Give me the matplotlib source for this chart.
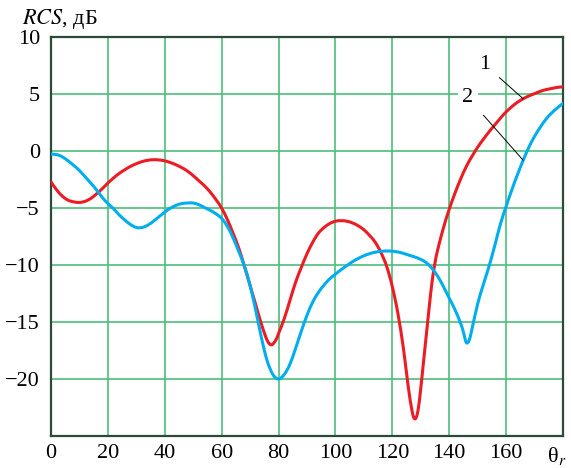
import numpy as np
import matplotlib
matplotlib.use('Agg')
import matplotlib.pyplot as plt
from matplotlib.path import Path
from matplotlib.patches import PathPatch

plt.rcParams['font.family'] = ['Liberation Serif', 'DejaVu Serif']
plt.rcParams['mathtext.fontset'] = 'stix'

# curve 1 (red)
theta1 = [0, 2, 4, 6, 8, 10, 12, 14, 16, 18, 20, 22, 24, 26, 28, 30, 32, 34, 36, 38,
          40, 42, 44, 46, 48, 50, 52, 54, 56, 58, 60, 62, 64, 66, 68, 70, 72, 74, 76,
          77.5, 79, 80, 82, 84, 86, 88, 90, 92, 94, 96, 98, 100, 102, 104, 106, 108,
          110, 112, 114, 116, 118, 120, 122, 124, 125.5, 127, 128, 129, 130, 131, 132,
          133, 134, 135, 136, 138, 140, 142, 144, 146, 148, 150, 152, 154, 156, 158,
          160, 162, 164, 166, 168, 170, 172, 174, 176, 178, 180]
rcs1 = [-2.7, -3.4, -3.95, -4.3, -4.45, -4.5, -4.4, -4.15, -3.75, -3.3, -2.8, -2.35,
        -1.95, -1.62, -1.33, -1.1, -0.92, -0.8, -0.75, -0.77, -0.85, -1.0, -1.2, -1.45,
        -1.75, -2.15, -2.6, -3.05, -3.6, -4.25, -5.0, -6.0, -7.2, -8.5, -10.1, -11.8,
        -13.5, -15.2, -16.6, -17.0, -16.6, -16.0, -14.7, -13.1, -11.5, -10.2, -9.0,
        -8.0, -7.2, -6.7, -6.35, -6.15, -6.1, -6.15, -6.3, -6.55, -6.9, -7.4, -8.0,
        -8.9, -10.1, -11.9, -14.3, -17.5, -20.5, -22.9, -23.5, -22.8, -20.8, -18.4,
        -16.0, -13.6, -11.4, -9.8, -8.6, -6.7, -5.1, -3.7, -2.45, -1.35, -0.45, 0.35,
        1.05, 1.7, 2.3, 2.9, 3.45, 3.9, 4.3, 4.6, 4.85, 5.05, 5.25, 5.4, 5.5, 5.6, 5.65]

# curve 2 (blue)
theta2 = [0, 2, 4, 6, 8, 10, 12, 14, 16, 18, 20, 22, 24, 26, 28, 30, 32, 34, 36, 38,
          40, 42, 44, 46, 48, 50, 52, 54, 56, 58, 60, 62, 64, 66, 68, 70, 72, 74, 76,
          78, 80, 82, 84, 86, 88, 90, 92, 94, 96, 98, 100, 102, 104, 106, 108, 110,
          112, 114, 116, 118, 120, 122, 124, 126, 128, 130, 132, 134, 136, 138, 140,
          142, 144, 145, 146, 147, 148, 150, 152, 154, 156, 158, 160, 162, 164, 166,
          168, 170, 172, 174, 176, 178, 180]
rcs2 = [-0.26, -0.3, -0.5, -0.85, -1.25, -1.7, -2.25, -2.8, -3.4, -4.05, -4.6, -5.05,
        -5.6, -6.05, -6.45, -6.7, -6.7, -6.5, -6.15, -5.75, -5.35, -5.0, -4.75, -4.6,
        -4.55, -4.55, -4.7, -4.95, -5.2, -5.5, -5.9, -6.6, -7.6, -8.8, -10.1, -11.8,
        -14.0, -16.4, -18.4, -19.6, -20.0, -19.6, -18.7, -17.3, -15.8, -14.4, -13.25,
        -12.4, -11.75, -11.2, -10.8, -10.4, -10.05, -9.7, -9.42, -9.18, -9.0, -8.87,
        -8.79, -8.76, -8.78, -8.85, -8.98, -9.14, -9.3, -9.5, -9.8, -10.3, -11.0,
        -11.9, -12.9, -13.9, -15.1, -15.9, -16.8, -16.6, -15.6, -13.4, -11.7, -10.1,
        -8.3, -6.4, -4.85, -3.4, -2.05, -0.8, 0.35, 1.3, 2.1, 2.8, 3.35, 3.8, 4.2]

xticks = [0, 20, 40, 60, 80, 100, 120, 140, 160]
yticks = [10, 5, 0, -5, -10, -15, -20]
yticklabels = ['10', '5', '0', '\u22125', '\u221210', '\u221215', '\u221220']

gridc = '#4dbf7a'
edgec = '#2b4a38'


def smooth_path(xs, ys):
    # cubic Bezier segments through the given points (Catmull-Rom tangents)
    p = np.column_stack([xs, ys]).astype(float)
    n = len(p)
    verts = [p[0]]
    codes = [Path.MOVETO]
    for i in range(n - 1):
        p0 = p[i - 1] if i > 0 else p[i]
        p3 = p[i + 2] if i + 2 < n else p[i + 1]
        c1 = p[i] + (p[i + 1] - p0) / 6.0
        c2 = p[i + 1] - (p3 - p[i]) / 6.0
        verts += [c1, c2, p[i + 1]]
        codes += [Path.CURVE4] * 3
    return Path(verts, codes)


fig = plt.figure(figsize=(5.71, 4.68), dpi=100)
ax = fig.add_axes([0.0893, 0.0684, 0.8967, 0.852])

for xs, ys, c in [(theta1, rcs1, '#ed1c24'), (theta2, rcs2, '#00aeef')]:
    ax.add_patch(PathPatch(smooth_path(xs, ys), fill=False, ec=c, lw=2.2,
                           capstyle='round', joinstyle='round', zorder=3))

ax.set_xlim(0, 180)
ax.set_ylim(-25, 10)
ax.set_xticks(xticks)
ax.set_yticks(yticks)
ax.set_yticklabels(yticklabels)
ax.tick_params(length=0, labelsize=16)
ax.tick_params(axis='x', pad=6)
ax.tick_params(axis='y', pad=8)

for x in xticks[1:]:
    ax.axvline(x, color=gridc, lw=1.2, zorder=1)
for y in yticks[1:]:
    ax.axhline(y, color=gridc, lw=1.2, zorder=1)

for sp in ax.spines.values():
    sp.set_color(edgec)
    sp.set_linewidth(1.6)

ax.annotate('θ$_r$', xy=(180, 0), xycoords=('data', 'axes fraction'),
            xytext=(-11.5, -6.3), textcoords='offset points',
            fontsize=16, ha='left', va='top', annotation_clip=False)

# leader lines to the curves
i1 = theta1.index(166)
i2 = theta2.index(166)
ax.annotate('1', xy=(theta1[i1], rcs1[i1]), xytext=(152.5, 7.6),
            fontsize=16, ha='center', va='center', zorder=4,
            arrowprops=dict(arrowstyle='-', color='black', lw=0.7,
                            shrinkA=6, shrinkB=0))
ax.annotate('2', xy=(theta2[i2], rcs2[i2]), xytext=(146.6, 4.7),
            fontsize=16, ha='center', va='center', zorder=4,
            bbox=dict(boxstyle='square,pad=0.2', fc='white', ec='none'),
            arrowprops=dict(arrowstyle='-', color='black', lw=0.7,
                            shrinkA=6, shrinkB=0))

fig.text(0.038, 0.948, '$RCS$, дБ', fontsize=16, ha='left', va='baseline')

fig.savefig('out.png', dpi=100)
